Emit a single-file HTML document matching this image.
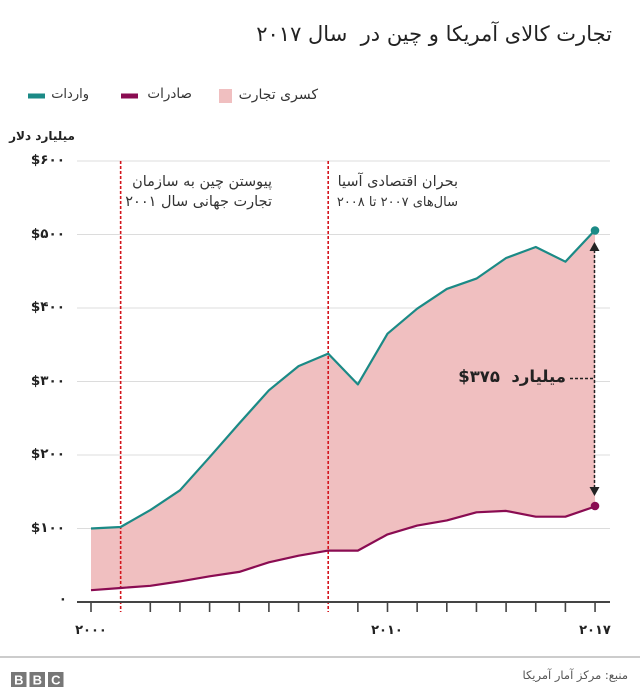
<!DOCTYPE html>
<html><head><meta charset="utf-8">
<style>
html,body{margin:0;padding:0;background:#fff;}
#w{position:relative;width:640px;height:693px;overflow:hidden;font-family:"DejaVu Sans","Liberation Sans",sans-serif;color:#222;}
.t{position:absolute;white-space:nowrap;line-height:1;}
.r{direction:rtl;text-align:right;}
</style></head><body>
<div id="w">
<svg width="640" height="693" style="position:absolute;left:0;top:0">
  <g stroke="#dcdcdc" stroke-width="1">
    <line x1="77" x2="610" y1="161" y2="161"/>
    <line x1="77" x2="610" y1="234.5" y2="234.5"/>
    <line x1="77" x2="610" y1="308" y2="308"/>
    <line x1="77" x2="610" y1="381.5" y2="381.5"/>
    <line x1="77" x2="610" y1="455" y2="455"/>
    <line x1="77" x2="610" y1="528.5" y2="528.5"/>
  </g>
  <polygon fill="#f0bfc0" points="91,528.5 120.65,527 150.3,510.1 179.95,490.3 209.6,457.2 239.25,423.4 268.9,390.3 298.55,366.1 328.2,353.6 357.85,384.4 387.5,333.7 417.15,308.7 446.8,288.9 476.45,278.6 506.1,258 535.75,247 565.4,261.7 595.05,230.1 595.05,506.5 565.4,516.7 535.75,516.7 506.1,510.9 476.45,512.3 446.8,520.4 417.15,525.6 387.5,534.4 357.85,550.6 328.2,550.6 298.55,555.7 268.9,562.3 239.25,571.9 209.6,576.3 179.95,581.4 150.3,585.8 120.65,588 91,590.2"/>
  <g stroke="#d4141c" stroke-width="1.6" stroke-dasharray="3,2">
    <line x1="120.65" x2="120.65" y1="161" y2="612"/>
    <line x1="328.2" x2="328.2" y1="161" y2="612"/>
  </g>
  <polyline fill="none" stroke="#1b8a86" stroke-width="2.2" stroke-linejoin="round" points="91,528.5 120.65,527 150.3,510.1 179.95,490.3 209.6,457.2 239.25,423.4 268.9,390.3 298.55,366.1 328.2,353.6 357.85,384.4 387.5,333.7 417.15,308.7 446.8,288.9 476.45,278.6 506.1,258 535.75,247 565.4,261.7 595.05,230.1"/>
  <polyline fill="none" stroke="#8a0c52" stroke-width="2.2" stroke-linejoin="round" points="91,590.2 120.65,588 150.3,585.8 179.95,581.4 209.6,576.3 239.25,571.9 268.9,562.3 298.55,555.7 328.2,550.6 357.85,550.6 387.5,534.4 417.15,525.6 446.8,520.4 476.45,512.3 506.1,510.9 535.75,516.7 565.4,516.7 595.05,506.5"/>
  <circle cx="595" cy="230.5" r="4.3" fill="#1b8a86"/>
  <circle cx="595" cy="506" r="4.3" fill="#8a0c52"/>
  <g stroke="#222" stroke-width="1.5" stroke-dasharray="3,2">
    <line x1="594.5" x2="594.5" y1="250" y2="490"/>
    <line x1="570" x2="594" y1="378.5" y2="378.5"/>
  </g>
  <polygon fill="#222" points="594.5,242 589.5,251 599.5,251"/>
  <polygon fill="#222" points="594.5,496 589.5,487 599.5,487"/>
  <line x1="77" x2="610" y1="602" y2="602" stroke="#444" stroke-width="2"/>
  <g stroke="#444" stroke-width="1.6">
    <line x1="91" x2="91" y1="602" y2="612"/>
    <line x1="150.3" x2="150.3" y1="602" y2="612"/>
    <line x1="179.95" x2="179.95" y1="602" y2="612"/>
    <line x1="209.6" x2="209.6" y1="602" y2="612"/>
    <line x1="239.25" x2="239.25" y1="602" y2="612"/>
    <line x1="268.9" x2="268.9" y1="602" y2="612"/>
    <line x1="298.55" x2="298.55" y1="602" y2="612"/>
    <line x1="357.85" x2="357.85" y1="602" y2="612"/>
    <line x1="387.5" x2="387.5" y1="602" y2="612"/>
    <line x1="417.15" x2="417.15" y1="602" y2="612"/>
    <line x1="446.8" x2="446.8" y1="602" y2="612"/>
    <line x1="476.45" x2="476.45" y1="602" y2="612"/>
    <line x1="506.1" x2="506.1" y1="602" y2="612"/>
    <line x1="535.75" x2="535.75" y1="602" y2="612"/>
    <line x1="565.4" x2="565.4" y1="602" y2="612"/>
    <line x1="595.05" x2="595.05" y1="602" y2="612"/>
  </g>
  <rect x="28" y="93.5" width="17" height="5" fill="#1b8a86"/>
  <rect x="121" y="93.5" width="17" height="5" fill="#8a0c52"/>
  <rect x="219" y="89" width="13" height="14" fill="#f0bfc0"/>
  <line x1="0" x2="640" y1="657" y2="657" stroke="#999" stroke-width="1"/>
  <rect x="11" y="672" width="15.5" height="15" fill="#777"/>
  <rect x="29.5" y="672" width="15.5" height="15" fill="#777"/>
  <rect x="48" y="672" width="15.5" height="15" fill="#777"/>
  <g fill="#fff" font-family="Liberation Sans, sans-serif" font-weight="bold" font-size="13" text-anchor="middle">
    <text x="18.8" y="684.5">B</text>
    <text x="37.3" y="684.5">B</text>
    <text x="55.8" y="684.5">C</text>
  </g>
</svg>

<div class="t r" style="right:28px;top:24px;font-size:21px;color:#222;">تجارت کالای آمریکا و چین در&nbsp; سال ۲۰۱۷</div>

<div class="t r" style="right:551px;top:88px;font-size:13px;color:#333;">واردات</div>
<div class="t r" style="right:448px;top:88px;font-size:13.5px;color:#333;">صادرات</div>
<div class="t r" style="right:322px;top:88px;font-size:14px;color:#333;">کسری تجارت</div>

<div class="t r" style="right:565px;top:130px;font-size:12px;font-weight:bold;color:#222;">میلیارد دلار</div>

<div class="t" style="right:575px;top:154px;font-size:13.5px;font-weight:bold;direction:ltr;">$۶۰۰</div>
<div class="t" style="right:575px;top:227.5px;font-size:13.5px;font-weight:bold;direction:ltr;">$۵۰۰</div>
<div class="t" style="right:575px;top:301px;font-size:13.5px;font-weight:bold;direction:ltr;">$۴۰۰</div>
<div class="t" style="right:575px;top:374.5px;font-size:13.5px;font-weight:bold;direction:ltr;">$۳۰۰</div>
<div class="t" style="right:575px;top:448px;font-size:13.5px;font-weight:bold;direction:ltr;">$۲۰۰</div>
<div class="t" style="right:575px;top:521.5px;font-size:13.5px;font-weight:bold;direction:ltr;">$۱۰۰</div>
<div class="t" style="right:573px;top:593px;font-size:13.5px;font-weight:bold;direction:ltr;">۰</div>

<div class="t" style="left:71px;width:40px;text-align:center;top:624px;font-size:13px;font-weight:bold;">۲۰۰۰</div>
<div class="t" style="left:367px;width:40px;text-align:center;top:624px;font-size:13px;font-weight:bold;">۲۰۱۰</div>
<div class="t" style="left:575px;width:40px;text-align:center;top:624px;font-size:13px;font-weight:bold;">۲۰۱۷</div>

<div class="t r" style="right:368px;top:172px;font-size:14.5px;color:#333;line-height:20px;">پیوستن چین به سازمان<br>تجارت جهانی سال ۲۰۰۱</div>
<div class="t r" style="right:182px;top:172px;font-size:14.5px;color:#333;line-height:20px;">بحران اقتصادی آسیا<br><span style="font-size:13px;">سال‌های ۲۰۰۷ تا ۲۰۰۸</span></div>

<div class="t" style="right:74px;top:369px;font-size:16.5px;font-weight:bold;color:#222;direction:ltr;">$۳۷۵&nbsp;&nbsp;میلیارد</div>

<div class="t r" style="right:12px;top:670px;font-size:11.5px;color:#555;">منبع: مرکز آمار آمریکا</div>
</div>
</body></html>
